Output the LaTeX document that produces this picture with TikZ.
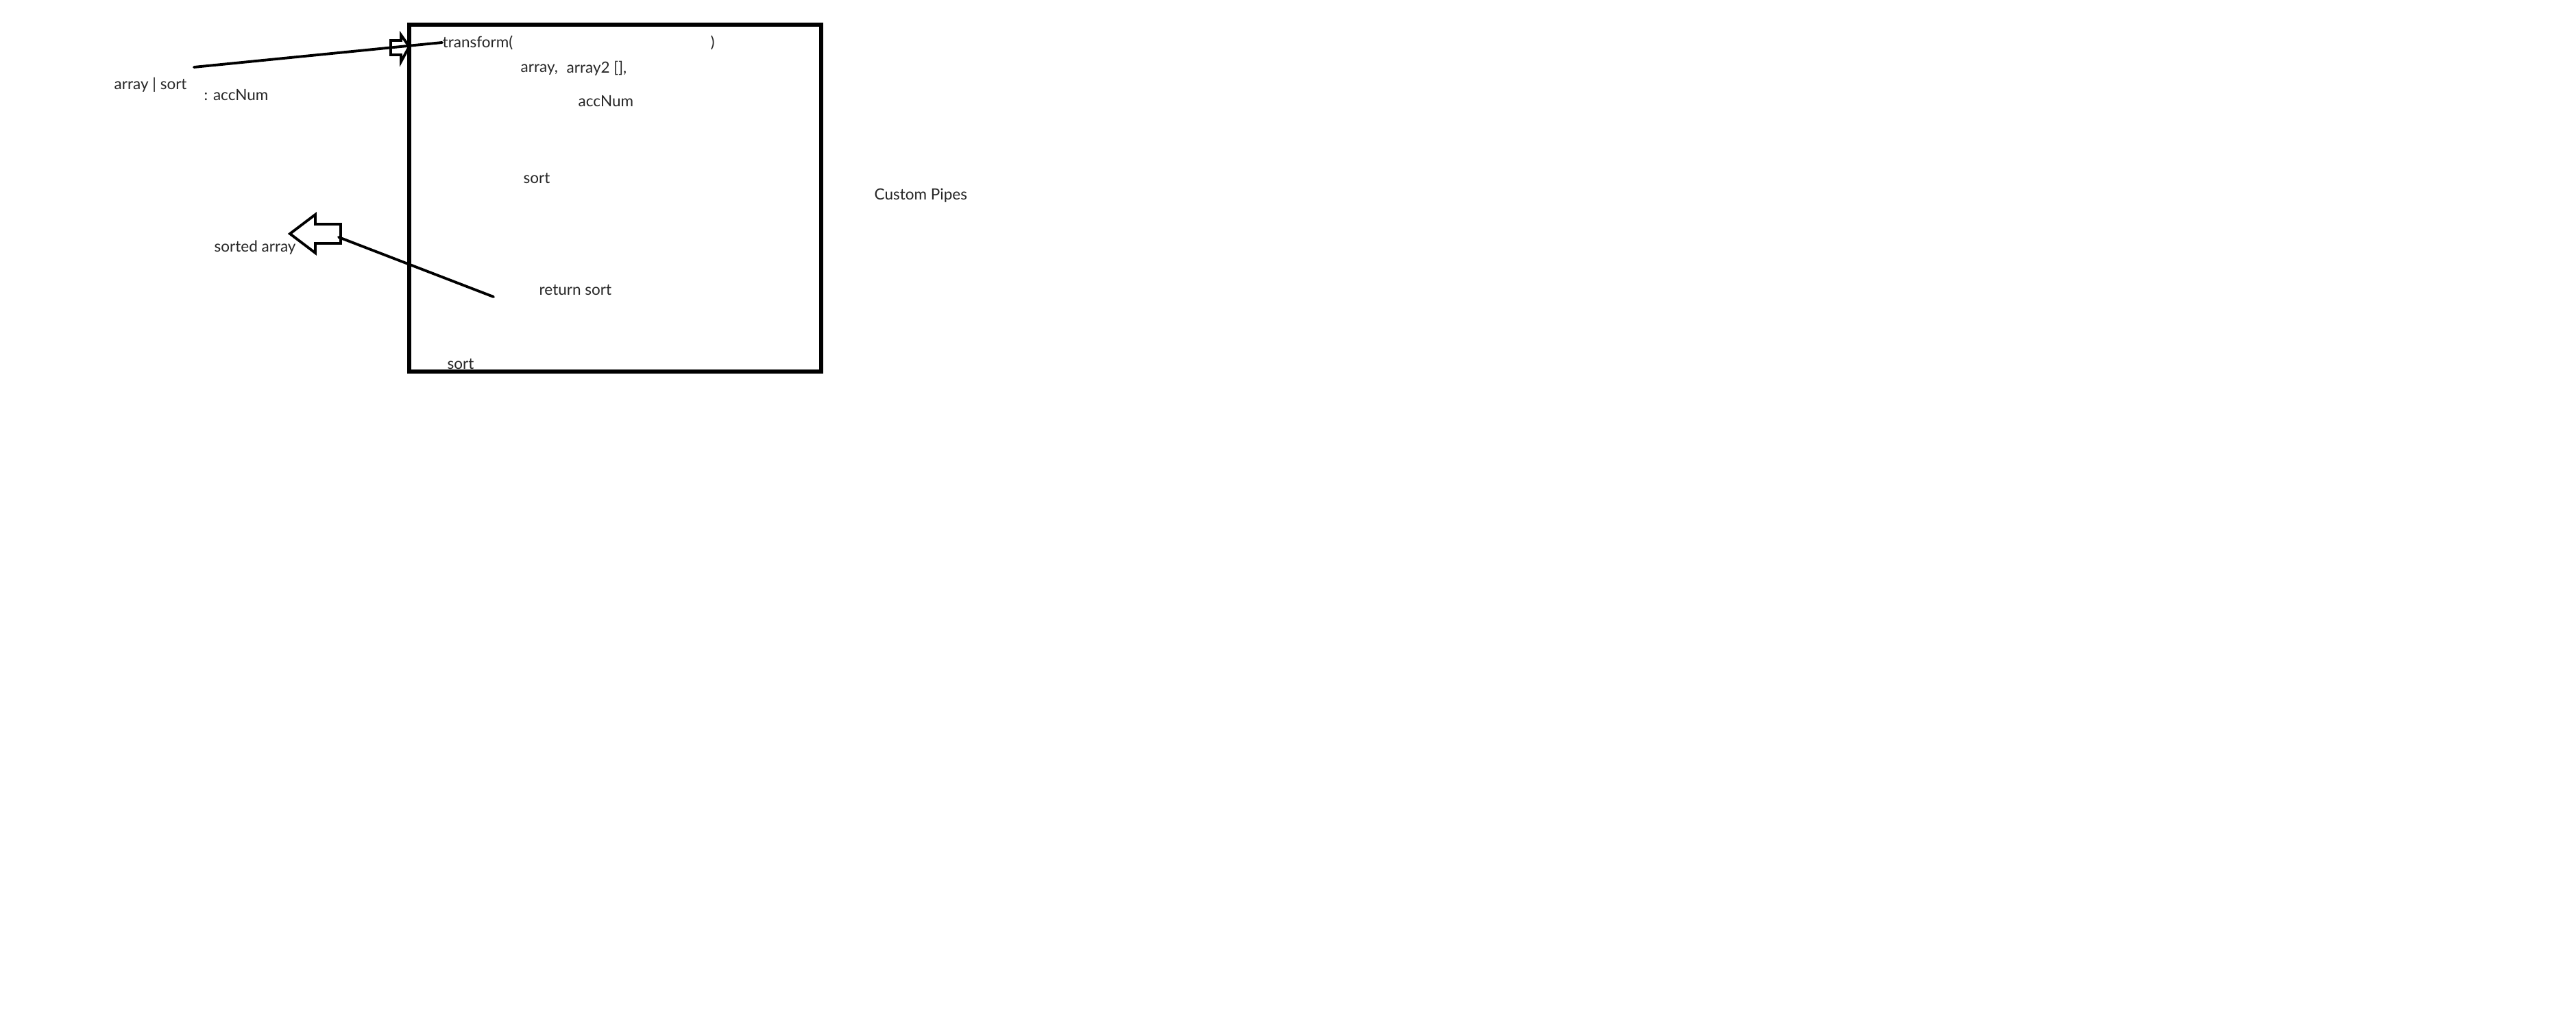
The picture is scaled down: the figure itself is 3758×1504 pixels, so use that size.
\documentclass[tikz,border=0pt]{standalone}
\usepackage{fontspec}
\setmainfont{Lato}

\begin{document}
\begin{tikzpicture}[x=0.01cm,y=-0.01cm,inner sep=0pt,
    txt/.style={anchor=west,text=black!85,font=\fontsize{6.4}{8}\selectfont},
    pen/.style={line width=1.1pt,line cap=round,line join=round}]
  \useasboundingbox (0,0) rectangle (3758,1504);
  % the function box
  \node[draw,line width=1.6pt,minimum width=6.01cm,minimum height=5.06cm] (box) at (897.5,289) {};
  \node[txt] (t_open)  at (645,62)  {transform(};
  \node[txt] (t_close) at (1036,62) {)};
  \node[txt] (a_1)     at (759,102) {array,};
  \node[txt] (a_2)     at (826,100) {array2 [],};
  \node[txt] (a_3)     at (843,148) {accNum};
  \node[txt] (s_1)     at (763,260) {sort};
  \node[txt] (ret)     at (786,423) {return sort};
  \node[txt] (s_2)     at (652,531) {sort};
  % outside
  \node[txt] (pipe)    at (166,124) {array | sort};
  \node[txt] (acc)     at (297,139) {: accNum};
  \node[txt] (sorted)  at (312,361) {sorted array};
  \node[txt] (title)   at (1275,285) {Custom Pipes};
  % connectors
  \coordinate (in_0)  at (283,98);
  \coordinate (out_0) at (720,433);
  \coordinate (out_1) at (494,346);
  \draw[pen] (in_0) -- (t_open.west);
  \draw[pen] (out_0) -- (out_1);
  % hollow arrows
  \draw[pen,line join=miter] (597,68) -- (585,51) -- (585,59) -- (570,59)
    -- (570,80) -- (585,80) -- (585,90) -- cycle;
  \draw[pen,line join=miter] (423,341) -- ++(37,-28) -- ++(0,14) -- ++(37,0)
    -- ++(0,28) -- ++(-37,0) -- ++(0,14) -- cycle;
\end{tikzpicture}
\end{document}
